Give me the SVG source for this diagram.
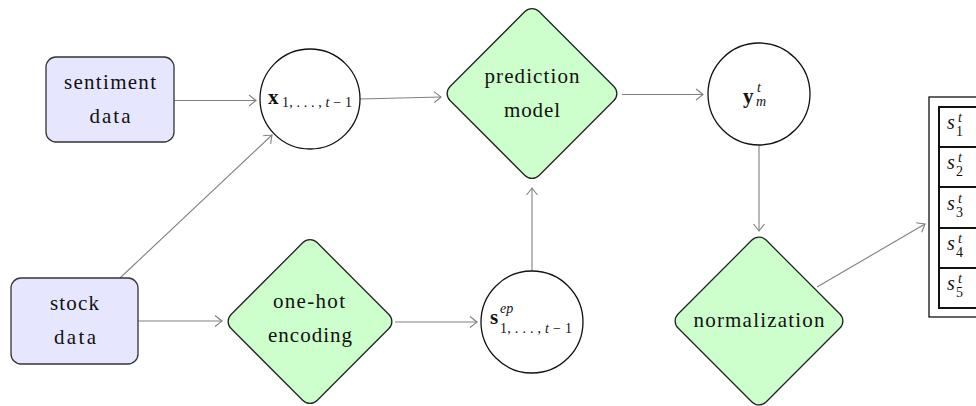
<svg xmlns="http://www.w3.org/2000/svg" width="976" height="406" viewBox="0 0 976 406" font-family="'Liberation Serif', 'DejaVu Serif', serif">
<style>
  .box { fill: #e6e6ff; stroke: #333; stroke-width: 1.3; }
  .dia { fill: #ccffcc; stroke: #222; stroke-width: 1.3; }
  .circ { fill: #fff; stroke: #111; stroke-width: 1.3; }
  text { font-family: 'Liberation Serif', 'DejaVu Serif', serif; fill: #111; }
  .lbl { font-size: 21px; text-anchor: middle; }
  .mb { font-size: 21px; font-weight: bold; }
  .ms { font-size: 14px; }
  .it { font-style: italic; }
  .edge { stroke: #808080; stroke-width: 1.1; fill: none; marker-end: url(#arr); }
  .cell { fill: #fff; stroke: #111; stroke-width: 2; }
</style>
<defs>
  <marker id="arr" markerUnits="userSpaceOnUse" markerWidth="10" markerHeight="12" viewBox="-8 -6 10 12" refX="0" refY="0" orient="auto" overflow="visible">
    <path d="M-7,-5.5 Q-2,-1.5 0,0 Q-2,1.5 -7,5.5" fill="none" stroke="#808080" stroke-width="1.1"/>
  </marker>
</defs>
<rect width="976" height="406" fill="#fff"/>

<g id="connectors">
  <path class="edge" d="M174,100.5 L256,100.5"/>
  <path class="edge" d="M120,278 L272,135"/>
  <path class="edge" d="M138,321 L222,321"/>
  <path class="edge" d="M395,322 L477,322"/>
  <path class="edge" d="M532,271 L532,188"/>
  <path class="edge" d="M360,99 L441,97"/>
  <path class="edge" d="M622,94.5 L703,94.5"/>
  <path class="edge" d="M759,145 L759,231"/>
  <path class="edge" d="M817,287 L925,224"/>
</g>

<g id="sentiment">
  <rect class="box" x="46" y="57" width="128" height="85" rx="10"/>
  <text class="lbl" x="110" y="89" textLength="92" lengthAdjust="spacing">sentiment</text>
  <text class="lbl" x="110" y="123" textLength="41" lengthAdjust="spacing">data</text>
</g>

<g id="stock">
  <rect class="box" x="11" y="278" width="127" height="86" rx="10"/>
  <text class="lbl" x="74.5" y="310" textLength="49" lengthAdjust="spacing">stock</text>
  <text class="lbl" x="75" y="344" textLength="42" lengthAdjust="spacing">data</text>
</g>

<g id="x">
  <circle class="circ" cx="310" cy="99" r="50"/>
  <text><tspan class="mb" x="268" y="104">x</tspan><tspan class="ms" x="282" y="107" textLength="70" lengthAdjust="spacing">1, . . . , <tspan class="it">t</tspan> − 1</tspan></text>
</g>

<g id="onehot">
  <path class="dia" transform="translate(310,321.5)" d="M7.07,-78.93 L78.93,-7.07 A10,10 0 0 1 78.93,7.07 L7.07,78.93 A10,10 0 0 1 -7.07,78.93 L-78.93,7.07 A10,10 0 0 1 -78.93,-7.07 L-7.07,-78.93 A10,10 0 0 1 7.07,-78.93 Z"/>
  <text class="lbl" x="309" y="308" textLength="72" lengthAdjust="spacing">one-hot</text>
  <text class="lbl" x="310" y="342" textLength="84" lengthAdjust="spacing">encoding</text>
</g>

<g id="sep">
  <circle class="circ" cx="532" cy="322" r="51"/>
  <text><tspan class="mb" x="490" y="324">s</tspan><tspan class="ms it" x="500" y="313">ep</tspan><tspan class="ms" x="500" y="333" textLength="72" lengthAdjust="spacing">1, . . . , <tspan class="it">t</tspan> − 1</tspan></text>
</g>

<g id="prediction">
  <path class="dia" transform="translate(532,93.5)" d="M7.07,-81.93 L81.93,-7.07 A10,10 0 0 1 81.93,7.07 L7.07,81.93 A10,10 0 0 1 -7.07,81.93 L-81.93,7.07 A10,10 0 0 1 -81.93,-7.07 L-7.07,-81.93 A10,10 0 0 1 7.07,-81.93 Z"/>
  <text class="lbl" x="532" y="83" textLength="95" lengthAdjust="spacing">prediction</text>
  <text class="lbl" x="532" y="117" textLength="56" lengthAdjust="spacing">model</text>
</g>

<g id="ym">
  <circle class="circ" cx="759" cy="94" r="51"/>
  <text><tspan class="mb" x="743" y="103">y</tspan><tspan class="ms it" x="757" y="92">t</tspan><tspan class="ms it" x="756" y="106">m</tspan></text>
</g>

<g id="normalization">
  <path class="dia" transform="translate(759,321)" d="M7.07,-80.93 L80.93,-7.07 A10,10 0 0 1 80.93,7.07 L7.07,80.93 A10,10 0 0 1 -7.07,80.93 L-80.93,7.07 A10,10 0 0 1 -80.93,-7.07 L-7.07,-80.93 A10,10 0 0 1 7.07,-80.93 Z"/>
  <text class="lbl" x="759" y="327" textLength="131" lengthAdjust="spacing">normalization</text>
</g>

<g id="table">
  <rect x="929" y="97" width="80" height="220" fill="#fff" stroke="#111" stroke-width="1.3"/>
  <rect class="cell" x="939" y="107" width="60" height="40"/>
  <rect class="cell" x="939" y="147" width="60" height="40"/>
  <rect class="cell" x="939" y="187" width="60" height="41"/>
  <rect class="cell" x="939" y="228" width="60" height="40"/>
  <rect class="cell" x="939" y="268" width="60" height="40"/>
  <text><tspan class="it" x="947" y="129" font-size="20">s</tspan><tspan class="ms it" x="958" y="122">t</tspan><tspan class="ms" x="956" y="136">1</tspan></text>
  <text><tspan class="it" x="947" y="169" font-size="20">s</tspan><tspan class="ms it" x="958" y="162">t</tspan><tspan class="ms" x="956" y="176">2</tspan></text>
  <text><tspan class="it" x="947" y="210" font-size="20">s</tspan><tspan class="ms it" x="958" y="203">t</tspan><tspan class="ms" x="956" y="217">3</tspan></text>
  <text><tspan class="it" x="947" y="250" font-size="20">s</tspan><tspan class="ms it" x="958" y="243">t</tspan><tspan class="ms" x="956" y="257">4</tspan></text>
  <text><tspan class="it" x="947" y="290" font-size="20">s</tspan><tspan class="ms it" x="958" y="283">t</tspan><tspan class="ms" x="956" y="297">5</tspan></text>
</g>
</svg>
